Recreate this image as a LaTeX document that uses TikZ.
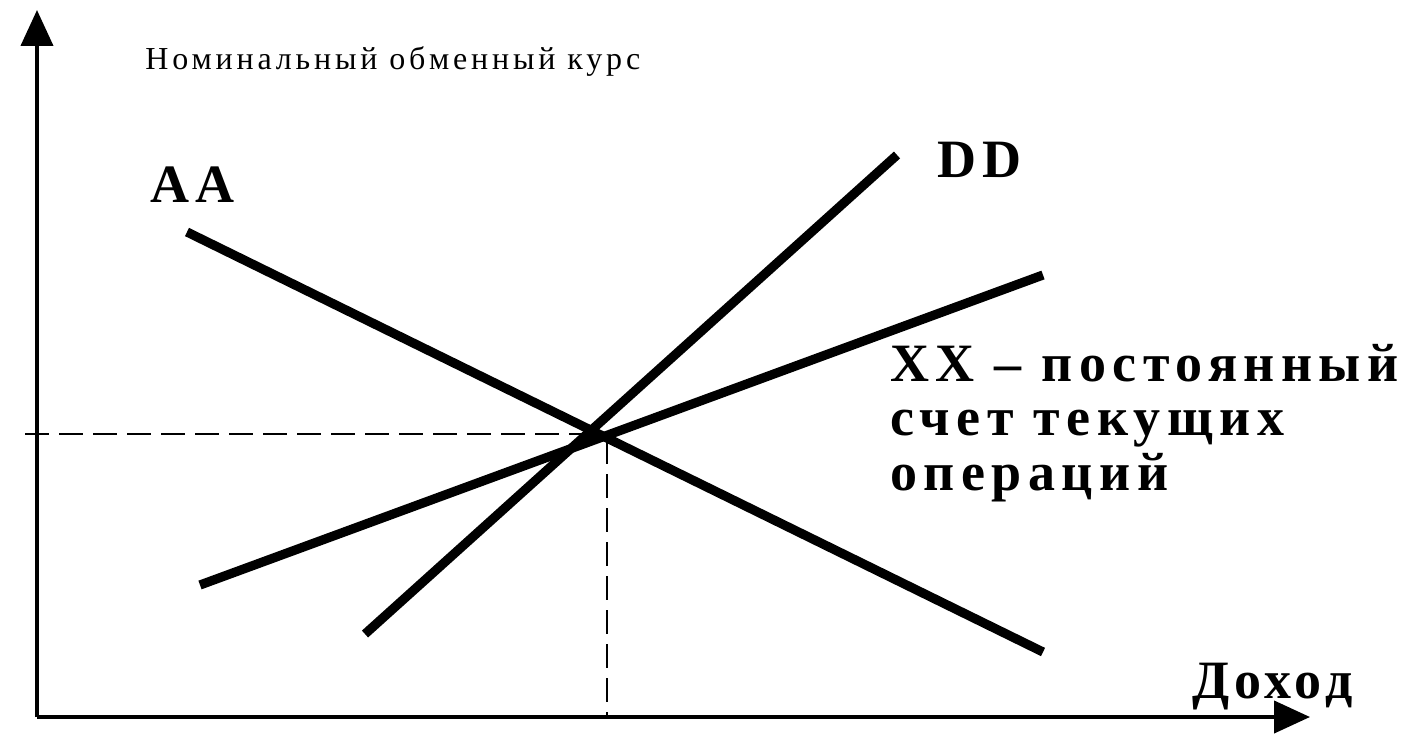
\documentclass[tikz,border=0pt]{standalone}
\usepackage{fontspec}
\setmainfont{Liberation Serif}
\newfontfamily\smallspaced[LetterSpace=12]{Liberation Serif}
\newfontfamily\bigspaced[LetterSpace=12]{Liberation Serif}
\newfontfamily\xspaced[LetterSpace=9]{Liberation Serif}
\usetikzlibrary{arrows.meta}
\tikzset{
  axis/.style={line width=2.1pt, -{Triangle[length=18pt,width=16pt]}},
  curve/.style={line width=4.6pt, line cap=butt},
  guide/.style={line width=1.4pt, dash pattern=on 12pt off 5pt},
  smalllab/.style={inner sep=0pt, anchor=base west, font=\smallspaced\fontsize{16pt}{19pt}\selectfont},
  biglab/.style={inner sep=0pt, anchor=base west, font=\bigspaced\bfseries\fontsize{27pt}{30pt}\selectfont},
  xlabstyle/.style={inner sep=0pt, anchor=base west, font=\xspaced\bfseries\fontsize{27pt}{30pt}\selectfont},
}
\begin{document}
\begin{tikzpicture}[x=0.5pt,y=-0.5pt]
\useasboundingbox (0,0) rectangle (1406,733);
\coordinate (O) at (37,717);
\coordinate (ytip) at (37,10);
\coordinate (xtip) at (1310,717);
\draw[axis] (O) -- (ytip);
\draw[axis] (O) -- (xtip);
% curves
\coordinate (aa1) at (187,232);
\coordinate (aa2) at (1043,652);
\coordinate (dd1) at (365,634);
\coordinate (dd2) at (897,155);
\coordinate (xx1) at (200,585);
\coordinate (xx2) at (1043,275);
\coordinate (hl) at (25,434);
\coordinate (hr) at (595,434);
\coordinate (vt) at (607,440);
\coordinate (vb) at (607,717);
\draw[guide] (hl) -- (hr);
\draw[guide] (vt) -- (vb);
\draw[curve] (aa1) -- (aa2);
\draw[curve] (dd1) -- (dd2);
\draw[curve] (xx1) -- (xx2);
% labels
\node[smalllab] (ylab) at (145,70) {Номинальный обменный курс};
\node[biglab] (aalab) at (150,202) {AA};
\node[biglab] (ddlab) at (937,177) {DD};
\node[biglab] (xxlab1) at (890,381) {XX – постоянный};
\node[biglab] (xxlab2) at (890,435) {счет текущих};
\node[biglab] (xxlab3) at (890,490) {операций};
\node[xlabstyle] (xlab) at (1192,698) {Доход};
\end{tikzpicture}
\end{document}
